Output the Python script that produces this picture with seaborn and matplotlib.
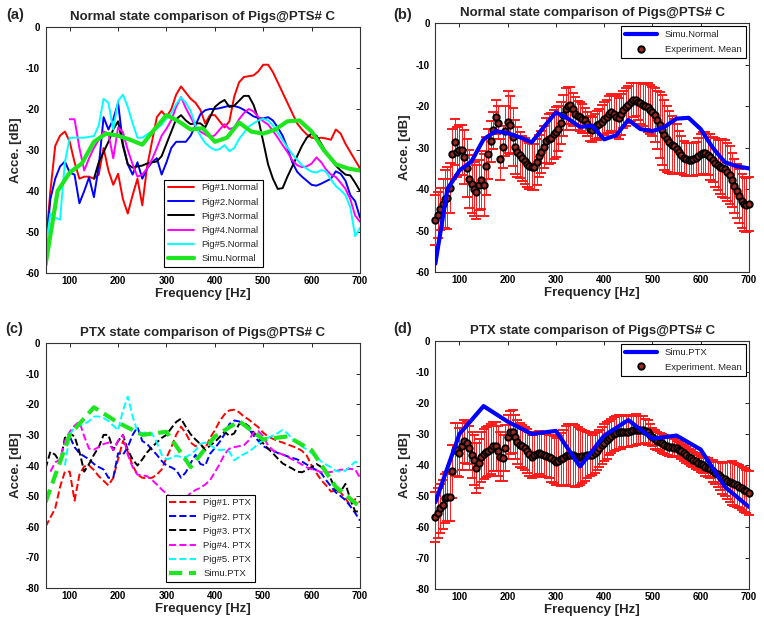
import numpy as np
import pandas as pd
import matplotlib
matplotlib.use("Agg")
import matplotlib.pyplot as plt
from matplotlib.lines import Line2D
import seaborn as sns

sns.set_theme(style="white")
plt.rcParams["font.family"] = ["Liberation Sans", "DejaVu Sans"]
plt.rcParams["font.weight"] = "bold"
plt.rcParams["axes.unicode_minus"] = False

nan = np.nan

# ── frequency grids ───────────────────────────────────────────────────────────
freq10 = np.arange(50, 701, 10)       # pig curves
freq5 = np.arange(50, 701, 5)         # experiment mean
freq_simu_n = np.arange(50, 701, 25)  # simulation (normal)
freq_simu_p = np.arange(50, 701, 50)  # simulation (PTX)

# ── simulation ────────────────────────────────────────────────────────────────
simu_normal = [-58, -40, -35.5, -33.3, -28, -26, -26.5, -27.5, -28.7, -25, -21.5,
               -23, -25, -24.7, -28, -27, -23.3, -25.5, -26, -25, -23, -22.8,
               -25.5, -30, -33.5, -34.5, -35]
simu_ptx = [-52, -30, -21, -26, -30, -29, -40.5, -30.5, -25.5, -31.5, -30.5,
            -35, -47, -53.5]

# ── normal state, pigs 1-5 ────────────────────────────────────────────────────
pig1_normal = [
    -54, -40, -29, -26.5, -25.5, -28, -33, -37, -36.5, -36.5,
    -37, -36, -29.5, -35, -38.5, -35.8, -42, -45.5, -41, -37,
    -43.5, -34, -28, -22, -20.5, -22, -20, -16.5, -14.5, -16,
    -17.5, -18.5, -20.2, -23.5, -21.5, -21.5, -23, -24.5, -23, -17,
    -13.5, -12.2, -12, -11.8, -10.8, -9.2, -9.2, -11, -13.5, -16,
    -18.5, -21, -23.5, -25, -26.2, -27, -27.2, -27, -27.2, -27.5,
    -25, -26, -28.5, -30.5, -32.5, -34.5]
pig2_normal = [
    -55, -42, -37, -34, -32.8, -35.5, -36, -43, -40, -36.7,
    -41.5, -34, -22, -25, -22.5, -18.5, -28.5, -33.5, -36, -33,
    -37, -34.5, -33, -32, -36, -33, -29.5, -28, -28, -28,
    -26.5, -24, -21.3, -20.3, -20, -20, -19.8, -19.5, -19.2, -19.3,
    -19.6, -20.2, -21, -21.8, -22.2, -22.3, -22, -22.8, -24.5, -26.5,
    -29.5, -33, -35.3, -36.5, -37.5, -38.5, -38.7, -38.2, -37.6, -37,
    -35.2, -35.8, -37.5, -41, -42.5, -46.5]
pig3_normal = [
    nan, nan, nan, nan, nan, nan, nan, nan, nan, nan,
    -37, -33, -30.5, -28, -25, -23, -29, -33.5, -34.3, -34,
    -33.8, -33.3, -33, -32.8, -31.5, -28.5, -25.5, -22.5, -21.5, -22.8,
    -23.7, -23.5, -23.5, -24.5, -22, -19.5, -18.5, -17.8, -19.5, -19.2,
    -18, -16.8, -16.8, -19, -22.5, -28, -33.5, -37, -39.5, -39.3,
    -36.5, -34, -31.5, -29, -27, -26, -26.5, -28.5, -30.5, -32,
    -33.8, -35, -36, -36.2, -38, -40]
pig4_normal = [
    nan, nan, nan, nan, nan, -22.5, -22.5, -29.5, -35, -32,
    -29.5, -27.5, -25.5, -26, -32, -24.5, -25.7, -30, -33.5, -36.5,
    -36, -34.5, -32.3, -29.5, -26.5, -24.8, -22.7, -19.5, -17.1, -19.8,
    -22, -24.3, -25.5, -26.2, -26.9, -26.4, -25, -23.7, -24.9, -24.5,
    -22.5, -21, -20, -20.6, -22, -23, -23.8, -25.3, -27, -28.8,
    -30.5, -32.5, -33.7, -34.2, -34, -33.3, -31.8, -33, -34.8, -36,
    -36.6, -38, -39.5, -42, -46, -47.5]
pig5_normal = [
    -54, -45.5, -46.5, -47, -33, -27, -27, -27, -27, -26.8,
    -26.6, -24, -17.5, -18.5, -25, -18, -16.5, -19.5, -23.5, -27,
    -27, -26.2, -25.4, -24.8, -23.8, -22.3, -21, -18.8, -17.2, -18.5,
    -20.5, -24, -26.5, -28.3, -29.3, -30, -29.8, -28.8, -30.3, -29.5,
    -27.3, -25.8, -24.3, -23.5, -22.8, -22.4, -22.8, -24, -25.8, -27.6,
    -29.4, -31, -32.4, -33.7, -34.6, -35.3, -35.5, -34.9, -35.3, -37.2,
    -38.8, -39.8, -41, -44, -51, -49]

# ── PTX state, pigs 1-5 ───────────────────────────────────────────────────────
pig1_ptx = [
    -60, -57, -54, -47, -42, -42, -51.5, -43, -40.3, -40,
    -41.5, -43.5, -45, -46.5, -44, -38, -32, -35.5, -40, -43,
    -44, -44.2, -44, -43, -41.3, -37.5, -34, -30, -27.3, -29.5,
    -32.5, -33.7, -33, -34.5, -31, -28.5, -25.5, -23.3, -22, -21.8,
    -22.6, -24, -25, -26.3, -27.5, -29.3, -30.5, -31.3, -32, -32.5,
    -33.1, -33.7, -34.3, -35.2, -36.8, -40, -42.5, -44.8, -46.5, -48.5,
    -48.2, -48.8, -50.8, -53, -51, -52]
pig2_ptx = [
    nan, nan, nan, nan, -33, -30.5, -34, -36, -37, -38,
    -39.5, -40.5, -41.3, -44, -44, -36, -36.5, -34, -30, -27.5,
    -32, -33, -34.8, -36.5, -38.5, -40, -40.6, -41.5, -44, -42.2,
    -39.2, -36.5, -39.5, -40, -36.2, -34.3, -32.3, -29.8, -26.5, -25.3,
    -25.6, -26.7, -28, -30.2, -32, -33.7, -34.5, -35.2, -35.9, -36.4,
    -37, -37.5, -38, -38.7, -39.7, -40.6, -41.5, -42.5, -44.8, -46.8,
    -48.8, -50, -51.3, -53.3, -55.5, -58]
pig3_ptx = [
    -41, -35.5, -36.5, -39, -31, -29.5, -30.5, -35.5, -42, -39.5,
    -36.5, -34, -30, -30, -35, -32, -30, -35, -38, -40,
    -38, -35.7, -34, -32.5, -31, -30, -27.8, -25.8, -24.7, -27.4,
    -29.8, -31.5, -33, -35, -33.5, -32.3, -30.7, -29, -30.3, -29.5,
    -26.5, -26, -27.2, -29.2, -31, -32.8, -34.5, -36, -37.7, -39.3,
    -40.2, -41, -42, -42.2, -41.5, -40.5, -39.5, -40.5, -42.3, -44.5,
    -48, -48.5, -46, -51, -55, -55]
pig4_ptx = [
    nan, -42, -39, -38, -32, -29, -27, -25.7, -30.5, -34.5,
    -34.8, -34, -33, -32.5, -35, -32, -30, -36.5, -40.5, -43,
    -43.2, -43.5, -44.7, -46.2, -47.8, -49.3, -50.5, -51.2, -51.5, -50.5,
    -49, -48, -47.3, -46.2, -44.8, -42.2, -39.5, -36.3, -34.5, -34,
    -33.7, -33.4, -31.8, -29.3, -28.8, -30.5, -33.5, -35, -35.8, -36.4,
    -37.2, -38, -38.8, -39.7, -40.6, -41.2, -41.6, -42.2, -42.3, -42.1,
    -41.8, -41.4, -41.2, -41.1, -41.3, -44]
pig5_ptx = [
    nan, nan, nan, nan, -40, -30, -27.5, -27, -26.5, -25.5,
    -24, -24, -24.5, -25.5, -27, -28.5, -22, -17.5, -24, -29,
    -29.4, -29.1, -29.5, -32.5, -36.5, -38, -37.5, -36.8, -37.2, -37.2,
    -36.4, -35, -33, -32.5, -33.3, -34.5, -35, -34.8, -35.5, -38.3,
    -37.2, -36.3, -35.5, -34.3, -32.8, -31.8, -30.9, -30.2, -29.4, -28.4,
    -29.5, -31.4, -32.7, -33.8, -34.8, -36, -37.4, -38.7, -39.7, -40.6,
    -41.8, -42, -41.7, -40.2, -38.8, -39.3]

# ── experiment mean and error (5 Hz steps) ────────────────────────────────────
mean_normal = [
    -47.5, -46.3, -44.8, -43.5, -42.5, -42.2, -39.8, -31.6, -28.6, -31,
    -30.5, -30.6, -32.2, -35, -37.5, -38.8, -40, -40.6, -39, -37.8,
    -39, -34.5, -31.5, -28.5, -25.8, -22.6, -24, -32.8, -29.8, -26,
    -23.8, -24.5, -27.5, -29.8, -31, -31.8, -32.6, -33.2, -34, -34.4,
    -34.6, -34.6, -33.5, -32, -31, -29.8, -28.3, -27.9, -27.6, -26.8,
    -26.2, -25.4, -24, -22.2, -20.7, -19.9, -19.8, -20.7, -21.8, -22.3,
    -22.6, -23, -23.4, -24.3, -25.4, -25.7, -25, -24.6, -24.2, -23.7,
    -23, -22.5, -22, -21.5, -21.8, -22.5, -22.9, -22, -20.8, -20.2,
    -19.6, -19, -18.5, -18.4, -18.9, -19.3, -19.7, -20, -20.3, -20.8,
    -21.3, -22.2, -23.3, -24.5, -25.7, -26.9, -27.9, -28.6, -29.3, -29.7,
    -30.3, -31, -31.8, -32.5, -32.8, -32.9, -32.9, -32.8, -32.6, -32.1,
    -31.6, -31.3, -31.3, -31.7, -32.3, -32.9, -33.6, -34.2, -34.7, -34.9,
    -35.2, -35.8, -36.5, -37.7, -39.2, -40.5, -41.6, -42.8, -43.6, -43.8,
    -43.5]
err_normal = [
    6, 5.5, 5, 6, 7, 7.5, 6, 6, 5.5, 6,
    6, 6, 6.5, 7, 7, 7, 6.5, 6.5, 6, 7,
    7.5, 7, 6, 5, 4.5, 4, 4, 5, 5, 6,
    7.5, 7, 7, 6.5, 6, 5.5, 5.5, 5.5, 5.5, 5.5,
    5.5, 5.5, 5.5, 5, 5, 5, 5.5, 6, 6, 6,
    6, 5.5, 5, 5, 5, 4.5, 4.5, 4, 4, 3.5,
    3.5, 3.5, 3, 3, 3, 3, 3, 3.5, 3.5, 4,
    4, 4, 4.5, 4.5, 4.5, 5, 5, 5, 4.5, 4.5,
    4.5, 4.5, 4, 4, 4.5, 5, 5, 5.5, 6, 6,
    6, 6.5, 7, 8, 8.5, 8.5, 8, 7.5, 7, 6.5,
    6, 5, 4.5, 4, 4, 4, 4, 4, 4, 4.5,
    5, 5, 5, 5, 5.5, 5.5, 6, 6, 6.5, 7,
    7, 7, 7, 6.5, 6.5, 6.5, 6.5, 6.5, 6.5, 6.5,
    6.5]
mean_ptx = [
    -56.8, -55.5, -54, -52.8, -50.8, -50.2, -50.2, -42, -35, -35,
    -36, -34, -32.4, -32.8, -34.5, -36.7, -38.3, -41, -39.5, -37.5,
    -36.4, -35.9, -35.5, -34.9, -34, -34, -35.5, -37.3, -37.8, -34.5,
    -31, -29.5, -29.2, -31, -32.6, -33.5, -34, -34.6, -35.5, -36.4,
    -37.3, -36.9, -36.3, -36, -36.4, -36.8, -37, -37.3, -37.9, -38.3,
    -38.9, -38.6, -38.2, -37.6, -37, -36.7, -36.7, -36.9, -37.1, -37.3,
    -37.3, -37.2, -37, -36.7, -36.7, -36.7, -36.2, -35.5, -34.6, -33.7,
    -32.8, -32, -31.3, -30.6, -30, -29.6, -29.4, -29.3, -29.2, -29.2,
    -29.2, -29, -28.8, -28.7, -28.7, -28.7, -28.8, -29, -29.5, -30.2,
    -31, -31.7, -32.2, -32.6, -33, -33.4, -33.8, -34.1, -34.3, -34.5,
    -34.6, -35, -35.6, -36.2, -36.8, -37.3, -37.8, -38.3, -38.7, -39.2,
    -39.7, -40.1, -40.5, -40.9, -41.3, -41.9, -42.5, -43, -43.6, -44.2,
    -44.6, -45, -45.4, -45.8, -46.2, -46.6, -47, -47.5, -48, -48.5,
    -49]
err_ptx = [
    8, 8, 8, 8, 8, 8, 8, 8.5, 8.5, 8.5,
    8, 7.5, 7, 7, 7, 7.5, 8, 8, 8, 8,
    8, 8, 8, 8, 8, 8, 8, 8, 7.5, 7.5,
    7, 7, 7, 7, 7, 7, 7, 7, 7, 7,
    7, 7, 7, 7, 7, 7, 7, 7, 7.5, 7.5,
    7.5, 8, 8.5, 9, 9.5, 10, 10, 10, 10, 9.5,
    9, 8.5, 8, 7.5, 7, 6.5, 6.5, 6, 6, 6,
    6, 6, 5.5, 5.5, 5.5, 5.5, 5.5, 5.5, 5, 5,
    5, 5, 5, 5, 4.5, 4.5, 4.5, 4, 4, 3.5,
    3, 3, 3, 3, 3, 3, 3, 3, 3, 3,
    2.5, 2.5, 2.5, 2.5, 2.5, 2.5, 2.5, 2.5, 2.5, 2.5,
    2.5, 2.5, 3, 3, 3, 3.5, 3.5, 4, 4.5, 5,
    5.5, 6, 6.5, 7, 7, 7, 7, 7, 7, 7,
    7]

PIG_COLORS = ["#ff0000", "#0000ff", "#000000", "#ff00ff", "#00ffff"]
GREEN = "#1ee61e"
BLUE = "#0000ff"
MARKER_FACE = "#9a2a22"
LEG_PROP = {"weight": "normal", "size": 6.8}


def style_axes(ax, ymin, title):
    ax.set_xlim(50, 700)
    ax.set_ylim(ymin, 0)
    ax.set_xticks(range(100, 701, 100))
    ax.set_yticks(range(ymin, 1, 10))
    ax.tick_params(direction="in", top=True, right=True, length=3, width=0.6,
                   labelsize=7, colors="black")
    ax.tick_params(axis="y", pad=4)
    ax.tick_params(axis="x", pad=2.5)
    for sp in ax.spines.values():
        sp.set_visible(True)
        sp.set_color("#333333")
        sp.set_linewidth(0.8)
    ax.set_xlabel("Frequency [Hz]", fontsize=9.5, fontweight="bold", labelpad=1)
    ax.set_ylabel("Acce. [dB]", fontsize=9.5, fontweight="bold", labelpad=3)
    ax.set_title(title, fontsize=9.5, fontweight="bold", pad=5)
    ax.grid(False)


def pig_legend(ax, x0):
    leg = ax.legend(loc="lower left", bbox_to_anchor=(x0, 0.024), prop=LEG_PROP,
                    handlelength=2.8, fancybox=False, framealpha=1,
                    edgecolor="black", labelspacing=0.55, borderpad=0.4,
                    borderaxespad=0)
    leg.get_frame().set_linewidth(0.8)


def plot_pigs(ax, pigs, labels, simu_x, simu_y, simu_label, dashed):
    for y, lab, col in zip(pigs, labels, PIG_COLORS):
        df = pd.DataFrame({"f": freq10, "v": y}).dropna()
        sns.lineplot(data=df, x="f", y="v", ax=ax, color=col, lw=1.4,
                     linestyle="--" if dashed else "-", label=lab)
    df = pd.DataFrame({"f": simu_x, "v": simu_y})
    sns.lineplot(data=df, x="f", y="v", ax=ax, color=GREEN, lw=3,
                 label=simu_label)
    if dashed:
        ax.lines[-1].set_dashes((3.2, 1.6))


def plot_mean(ax, mean, err, simu_x, simu_y, simu_label):
    df = pd.DataFrame({"f": simu_x, "v": simu_y})
    sns.lineplot(data=df, x="f", y="v", ax=ax, color=BLUE, lw=3, legend=False,
                 zorder=5)
    ax.errorbar(freq5, mean, yerr=err, fmt="o", ms=4.6, mec="black",
                mfc=MARKER_FACE, mew=1.4, ecolor="#ff1a1a", elinewidth=0.7,
                capsize=3.6, capthick=0.7, zorder=4, clip_on=False)
    handles = [Line2D([], [], color=BLUE, lw=3),
               Line2D([], [], ls="none", marker="o", ms=4.6, mec="black",
                      mfc=MARKER_FACE, mew=1.4)]
    leg = ax.legend(handles, [simu_label, "Experiment. Mean"], loc="upper right",
                    prop=LEG_PROP, handlelength=3.4, borderaxespad=0.3,
                    fancybox=False, framealpha=1, edgecolor="black",
                    labelspacing=0.6, borderpad=0.45)
    leg.get_frame().set_linewidth(0.8)
    leg.set_zorder(10)


fig = plt.figure(figsize=(7.64, 6.25), dpi=100)
ax_a = fig.add_axes([0.0596, 0.5632, 0.4116, 0.3936])
ax_b = fig.add_axes([0.5698, 0.5648, 0.4104, 0.3979])
ax_c = fig.add_axes([0.0596, 0.0592, 0.4116, 0.3920])
ax_d = fig.add_axes([0.5698, 0.0576, 0.4104, 0.3968])

# (a)
plot_pigs(ax_a, [pig1_normal, pig2_normal, pig3_normal, pig4_normal, pig5_normal],
          [f"Pig#{i}.Normal" for i in range(1, 6)],
          freq_simu_n, simu_normal, "Simu.Normal", dashed=False)
style_axes(ax_a, -60, "Normal state comparison of Pigs@PTS# C")
pig_legend(ax_a, 0.376)

# (b)
plot_mean(ax_b, mean_normal, err_normal, freq_simu_n, simu_normal, "Simu.Normal")
style_axes(ax_b, -60, "Normal state comparison of Pigs@PTS# C")

# (c)
plot_pigs(ax_c, [pig1_ptx, pig2_ptx, pig3_ptx, pig4_ptx, pig5_ptx],
          [f"Pig#{i}. PTX" for i in range(1, 6)],
          freq_simu_p, simu_ptx, "Simu.PTX", dashed=True)
style_axes(ax_c, -80, "PTX state comparison of Pigs@PTS# C")
pig_legend(ax_c, 0.382)

# (d)
plot_mean(ax_d, mean_ptx, err_ptx, freq_simu_p, simu_ptx, "Simu.PTX")
style_axes(ax_d, -80, "PTX state comparison of Pigs@PTS# C")

for x, y, s in [(0.008, 0.988, "(a)"), (0.515, 0.988, "(b)"),
                (0.007, 0.484, "(c)"), (0.515, 0.484, "(d)")]:
    fig.text(x, y, s, fontsize=10.5, fontweight="bold", va="top", ha="left")

fig.savefig("out.png", dpi=100)
